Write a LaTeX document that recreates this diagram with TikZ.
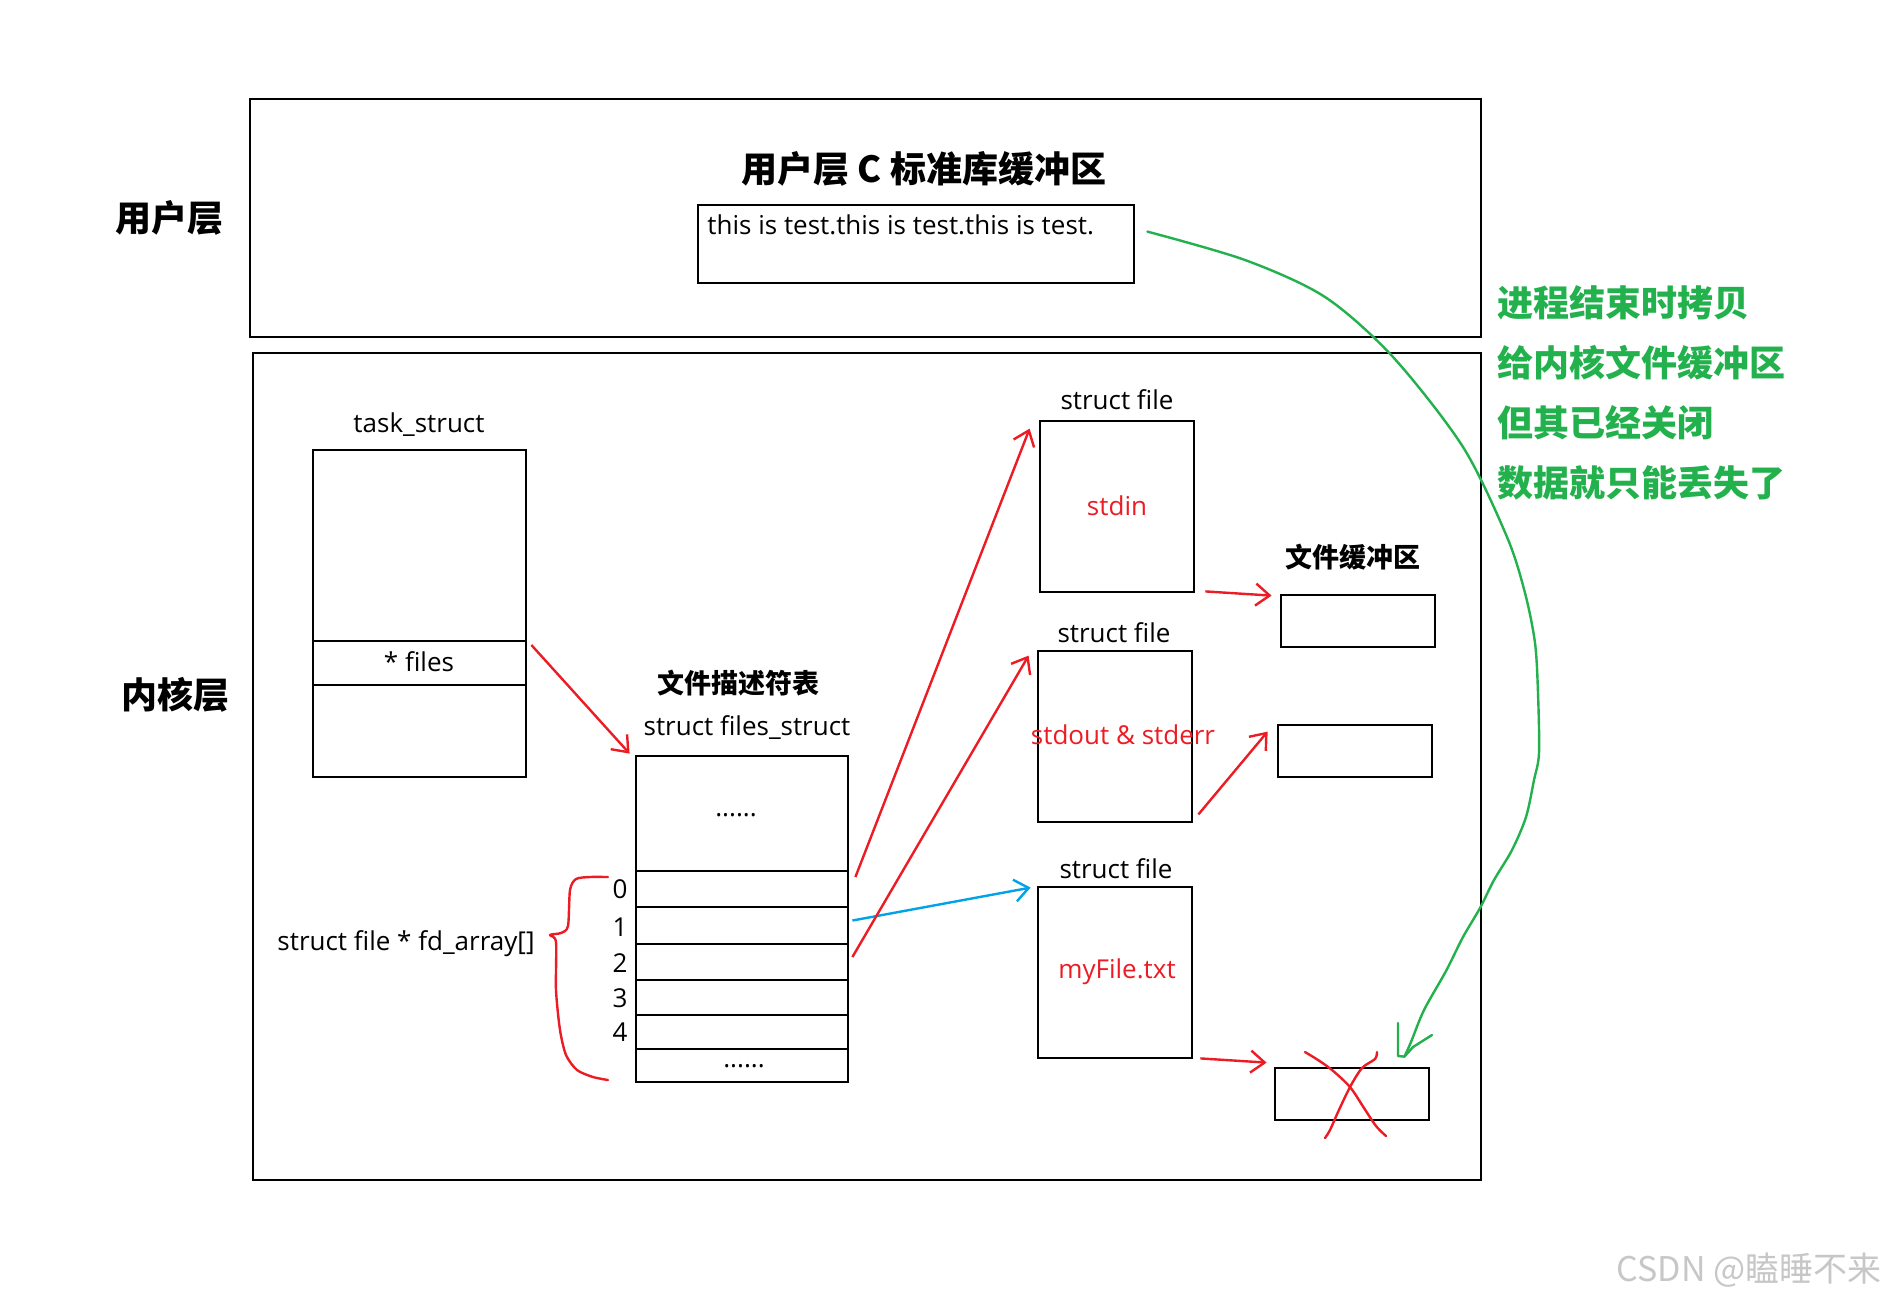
\documentclass[tikz,border=0pt]{standalone}
\usepackage{fontspec}
\setmainfont{Open Sans}
\newfontfamily\cjk{Noto Sans CJK SC}
\usetikzlibrary{arrows.meta,fit,calc}
\definecolor{pred}{HTML}{ED1C24}
\definecolor{pblue}{HTML}{00A2E8}
\definecolor{pgreen}{HTML}{22B14C}
\begin{document}
\begin{tikzpicture}[x=0.5pt,y=-0.5pt,
  box/.style={draw=black, line width=1.4pt, inner sep=0pt, fill=none},
  lat/.style={font=\fontsize{13}{15}\selectfont, inner sep=0pt},
  bigcjk/.style={font=\cjk\bfseries\fontsize{18}{20}\selectfont, inner sep=0pt},
  midcjk/.style={font=\cjk\bfseries\fontsize{13.5}{15}\selectfont, inner sep=0pt},
  redarr/.style={draw=pred, line width=1.2pt, -{Straight Barb[length=7pt,width=11pt]}},
  bluearr/.style={draw=pblue, line width=1.2pt, -{Straight Barb[length=7pt,width=11pt]}},
  redline/.style={draw=pred, line width=1.2pt, line cap=round, line join=round},
  greenline/.style={draw=pgreen, line width=1.2pt, line cap=round, line join=round}]
\useasboundingbox (0,0) rectangle (1888,1303);
\fill[white] (0,0) rectangle (1888,1303);

% layers
\node[box, fit={(250,99)(1481,337)}] (user) {};
\node[box, fit={(253,353)(1481,1180)}] (kernel) {};
\node[bigcjk] (lu) at (169,218) {用户层};
\node[bigcjk] (lk) at (175,695) {内核层};

% user buffer
\node[bigcjk] (utitle) at (924,169) {用户层 C 标准库缓冲区};
\node[box, fit={(698,205)(1134,283)}] (ubuf) {};
\node[lat, anchor=west] (utext) at (707,225) {this is test.this is test.this is test.};

% task_struct
\node[lat] (tlabel) at (419,425) {task\_struct};
\node[box, fit={(313,450)(526,641)}] (ttop) {};
\node[box, fit={(313,641)(526,685)}, lat] (tfiles) {};
\node[lat] (tftext) at (419,662) {* files};
\node[box, fit={(313,685)(526,777)}] (tbot) {};

% files_struct
\node[midcjk] (fdtitle) at (738,683) {文件描述符表};
\node[lat] (fslabel) at (747,728) {struct files\_struct};
\node[box, fit={(636,756)(848,871)}] (ftop) {};
\node[box, fit={(636,871)(848,907)}] (r0) {};
\node[box, fit={(636,907)(848,944)}] (r1) {};
\node[box, fit={(636,944)(848,980)}] (r2) {};
\node[box, fit={(636,980)(848,1015)}] (r3) {};
\node[box, fit={(636,1015)(848,1049)}] (r4) {};
\node[box, fit={(636,1049)(848,1082)}] (r5) {};
\node[lat, anchor=base] (dots1) at (736,816) {......};
\node[lat, anchor=base] (dots2) at (744,1067) {......};
\node[lat] (n0) at (620,889) {0};
\node[lat] (n1) at (620,927) {1};
\node[lat] (n2) at (620,963) {2};
\node[lat] (n3) at (620,998) {3};
\node[lat] (n4) at (620,1032) {4};
\node[lat] (fdarr) at (406,944) {struct file * fd\_array[]};

% brace
\draw[redline] plot[smooth, tension=0.45] coordinates {(608,877)(590,877)(576,879)(570,890)(568,926)(561,933)(550,935)(556,942)(556,990)(560,1030)(566,1055)(577,1070)(593,1077)(608,1080)};

% struct file boxes
\node[lat] (f1label) at (1117,400) {struct file};
\node[box, fit={(1040,421)(1194,592)}] (f1) {};
\node[lat, text=pred] (f1text) at (1117,506) {stdin};
\node[lat] (f2label) at (1114,633) {struct file};
\node[box, fit={(1038,651)(1192,822)}] (f2) {};
\node[lat, text=pred] (f2text) at (1123,735) {stdout \& stderr};
\node[lat] (f3label) at (1116,869) {struct file};
\node[box, fit={(1038,887)(1192,1058)}] (f3) {};
\node[lat, text=pred] (f3text) at (1117,972) {myFile.txt};

% kernel file buffers
\node[midcjk] (kbtitle) at (1353,557) {文件缓冲区};
\node[box, fit={(1281,595)(1435,647)}] (b1) {};
\node[box, fit={(1278,725)(1432,777)}] (b2) {};
\node[box, fit={(1275,1068)(1429,1120)}] (b3) {};

% connectors
\draw[redarr] ([shift={(4,-18)}]tfiles.east) -- ([shift={(-5,-1)}]ftop.north west);
\draw[redarr] ([shift={(6,-12)}]r0.east) -- ([shift={(-9,9)}]f1.north west);
\draw[bluearr] ([shift={(3,-5)}]r1.east) -- ([shift={(-6,2)}]f3.north west);
\draw[redarr] ([shift={(3,-5)}]r2.east) -- ([shift={(-8,6)}]f2.north west);
\draw[redarr] ([shift={(10,-2)}]f1.south east) -- ([shift={(-8,2)}]b1.north west);
\draw[redarr] ([shift={(5,-9)}]f2.south east) -- ([shift={(-9,8)}]b2.north west);
\draw[redarr] ([shift={(7,-1)}]f3.south east) -- ([shift={(-7,-4)}]b3.north west);

% red cross
\draw[redline] plot[smooth] coordinates {(1305,1052)(1318,1060)(1332,1070)(1350,1087)(1364,1108)(1376,1126)(1386,1136)};
\draw[redline] plot[smooth] coordinates {(1377,1052)(1375,1059)(1362,1068)(1350,1087)(1338,1112)(1330,1130)(1325,1138)};

% green curve
\coordinate (gs) at ([shift={(12,28)}]ubuf.north east);
\coordinate (ge) at ([shift={(-26,-10)}]b3.north east);
\draw[greenline] plot[smooth] coordinates {(gs)(1245,260)(1325,297)(1393,357)(1463,447)(1507,537)(1525,593)(1535,643)(1538,693)(1539,753)(1534,780)(1526,817)(1512,850)(1494,880)(1480,908)(1463,937)(1446,971)(1424,1010)(1411,1042)(ge)};
\draw[greenline] (1398,1023) -- (1398,1056) -- (ge) -- (1413,1047) -- (1432,1035);

% note
\node[font=\cjk\bfseries\fontsize{18}{30}\selectfont, text=pgreen, align=left, anchor=west, inner sep=0pt] (note) at (1497,393) {进程结束时拷贝\\给内核文件缓冲区\\但其已经关闭\\数据就只能丢失了};

% watermark
\node[font=\cjk\fontsize{17}{20}\selectfont, text=black!22, anchor=east, inner sep=0pt] (wm) at (1882,1270) {CSDN @瞌睡不来};
\end{tikzpicture}
\end{document}
